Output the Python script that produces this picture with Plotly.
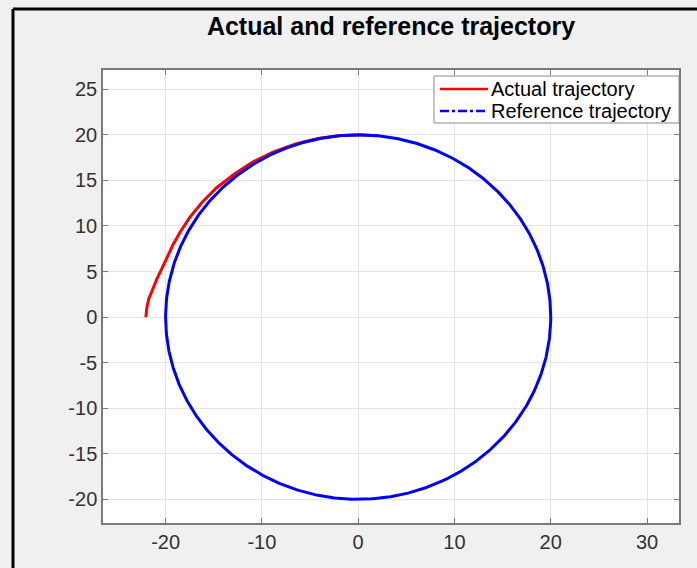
import numpy as np
import plotly.graph_objects as go

# Reference path: circle of radius 20 centred on the origin
ref_radius = 20.0
ref_center = (0.0, 0.0)

# Actual vehicle path (x, y) – starts off the circle and converges onto it
actual_x = [-22.05, -21.95, -21.75, -21.4, -20.9, -20.35, -19.8, -19.2, -18.45, -17.45,
            -16.2, -14.7, -12.85, -11.0, -8.85, -6.5, -4.15, -2.1, 0.0, 2.0]
actual_y = [0.0, 1.0, 2.0, 3.0, 4.2, 5.4, 6.7, 8.0, 9.4, 11.0,
            12.6, 14.2, 15.7, 17.0, 18.1, 19.0, 19.6, 19.9, 20.0, 19.9]

# Axis ticks
x_ticks = [-20, -10, 0, 10, 20, 30]
x_tick_labels = ["-20", "-10", "0", "10", "20", "30"]
y_ticks = [-20, -15, -10, -5, 0, 5, 10, 15, 20, 25]
y_tick_labels = ["-20", "-15", "-10", "-5", "0", "5", "10", "15", "20", "25"]

series_names = ["Actual trajectory", "Reference trajectory"]
series_colors = ["#ff0000", "#0000ff"]
series_dash = ["solid", "dashdot"]

theta = np.linspace(0, 2 * np.pi, 721)
ref_x = ref_center[0] + ref_radius * np.cos(theta)
ref_y = ref_center[1] + ref_radius * np.sin(theta)

FONT = "Liberation Sans, Arial, sans-serif"
W, H = 697, 568
ML, MR, MT, MB = 103, 18, 70, 45
pw, ph = W - ML - MR, H - MT - MB


def px_x(x):
    """pixel column -> paper x"""
    return (x - ML) / pw


def px_y(y):
    """pixel row -> paper y"""
    return (H - MB - y) / ph


fig = go.Figure()
fig.add_trace(go.Scatter(x=actual_x, y=actual_y, mode="lines", name=series_names[0],
                         line=dict(color=series_colors[0], width=3)))
fig.add_trace(go.Scatter(x=ref_x, y=ref_y, mode="lines", name=series_names[1],
                         line=dict(color=series_colors[1], width=3)))

axis_common = dict(showgrid=True, gridcolor="#e4e4e4", gridwidth=1,
                   showline=True, linecolor="#7a7a7a", linewidth=1.5, mirror="ticks",
                   ticks="inside", ticklen=5, tickcolor="#7a7a7a", zeroline=False,
                   tickfont=dict(family=FONT, size=20, color="#333333"))

# legend box drawn in paper space (MATLAB-style compact legend)
box_l, box_r, box_t, box_b = 434, 679, 76, 123
row_y = [89, 111]
shapes = [
    dict(type="rect", xref="paper", yref="paper",
         x0=px_x(box_l), x1=px_x(box_r), y0=px_y(box_b), y1=px_y(box_t),
         fillcolor="#ffffff", line=dict(color="#8a8a8a", width=1), layer="above"),
]
annotations = []
for name, color, dash, ry in zip(series_names, series_colors, series_dash, row_y):
    shapes.append(dict(type="line", xref="paper", yref="paper",
                       x0=px_x(440), x1=px_x(488), y0=px_y(ry), y1=px_y(ry),
                       line=dict(color=color, width=2.5, dash=dash), layer="above"))
    annotations.append(dict(text=name, xref="paper", yref="paper", x=px_x(489), y=px_y(ry),
                            xanchor="left", yanchor="middle", showarrow=False,
                            font=dict(family=FONT, size=20, color="#000000")))

# figure frame along the top and left edges
shapes += [
    dict(type="line", xref="paper", yref="paper",
         x0=px_x(13), x1=px_x(W), y0=px_y(9), y1=px_y(9),
         line=dict(color="#000000", width=3)),
    dict(type="line", xref="paper", yref="paper",
         x0=px_x(13), x1=px_x(13), y0=px_y(9), y1=px_y(H),
         line=dict(color="#000000", width=3)),
]

fig.update_layout(
    width=W, height=H,
    margin=dict(l=ML, r=MR, t=MT, b=MB),
    paper_bgcolor="#f0f0f0", plot_bgcolor="#ffffff",
    title=dict(text="<b>Actual and reference trajectory</b>", x=0.5, xref="paper",
               y=1 - 26 / H, yref="container", yanchor="middle", xanchor="center",
               font=dict(family=FONT, size=25, color="#000000")),
    xaxis=dict(range=[-26.5, 33.32], tickvals=x_ticks, ticktext=x_tick_labels, **axis_common),
    yaxis=dict(range=[-22.6, 27.12], tickvals=y_ticks, ticktext=y_tick_labels, **axis_common),
    showlegend=False,
    shapes=shapes,
    annotations=annotations,
)

fig.write_html("out.html")
